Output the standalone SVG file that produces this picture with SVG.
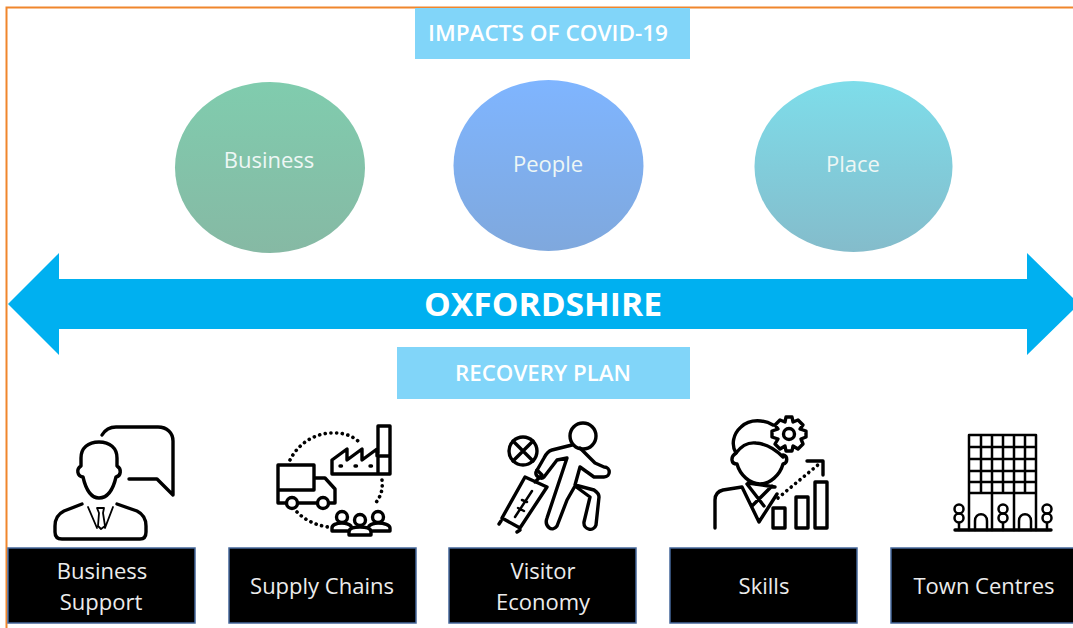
<svg xmlns="http://www.w3.org/2000/svg" width="1073" height="628" viewBox="0 0 1073 628">
<defs>
<linearGradient id="gG" x1="0" y1="0" x2="0" y2="1"><stop offset="0" stop-color="#80ccae"/><stop offset="1" stop-color="#86b9a4"/></linearGradient>
<linearGradient id="gB" x1="0" y1="0" x2="0" y2="1"><stop offset="0" stop-color="#7fb5ff"/><stop offset="1" stop-color="#7fa8dd"/></linearGradient>
<linearGradient id="gC" x1="0" y1="0" x2="0" y2="1"><stop offset="0" stop-color="#7eddea"/><stop offset="1" stop-color="#84bccb"/></linearGradient>
</defs>
<style>
text{font-family:"Open Sans","Noto Sans","Liberation Sans",sans-serif;text-anchor:middle;fill:#fff}
.lab{fill:#ececec;font-size:22px}
.c{font-size:22px;fill:#eef7f5}
.h{font-weight:600;font-size:21px}
.box{fill:#000;stroke:#44679b;stroke-width:1.5}
.band{fill:#81d5f9}
.i{fill:none;stroke:#000;stroke-width:3.4;stroke-linecap:round;stroke-linejoin:round}
.t{stroke-width:2.500}
.n{stroke-width:1.800}
.d{stroke-dasharray:.1 5.6;stroke-width:3.6}
</style>
<rect width="1073" height="628" fill="#fff"/>
<path d="M1073 7.500H6.500V628" fill="none" stroke="#f0862c" stroke-width="2"/>

<g id="title"><rect class="band" x="415" y="8" width="275" height="51"/><text class="h" x="548" y="41" textLength="240" lengthAdjust="spacingAndGlyphs">IMPACTS OF COVID-19</text></g>
<g id="business"><ellipse cx="270" cy="167.500" rx="95" ry="85.500" fill="url(#gG)"/><text class="c" x="269" y="168">Business</text></g>
<g id="people"><ellipse cx="548.500" cy="165.500" rx="95" ry="85.500" fill="url(#gB)"/><text class="c" x="548" y="172">People</text></g>
<g id="place"><ellipse cx="853.500" cy="166.500" rx="99" ry="85.500" fill="url(#gC)"/><text class="c" x="853" y="172">Place</text></g>

<g id="oxfordshire"><path d="M8 304L59 253V279H1027V253L1073 298V310L1027 355V329H59V355Z" fill="#00b0f0"/><text x="543" y="316" font-size="33" font-weight="700" textLength="238" lengthAdjust="spacingAndGlyphs">OXFORDSHIRE</text></g>
<g id="recovery"><rect class="band" x="397" y="347" width="293" height="52"/><text class="h" x="543" y="381" textLength="176" lengthAdjust="spacingAndGlyphs">RECOVERY PLAN</text></g>

<g id="connectors"></g>

<g id="business-support">
<path class="i" d="M102 435C105 430 110 427 116 427H158C167 427 173 433 173 441V495L157 479H129"/>
<path class="i" d="M99 442C88 442 81 448 81 458V466C76 469 77 476 83 477C86 490 91 498 99 498C107 498 113 490 116 477C121 476 122 469 117 466V458C117 448 110 442 99 442Z"/>
<path class="i" d="M82 504L64 511C58 514 55 519 55 526V532C55 537 58 539 62 539H140C144 539 146 537 146 532V526C146 519 143 514 137 511L117 504"/>
<path class="i n" d="M88 507L97 528M113 507L105 528M97 508H104L103 513L105 526L101 529L98 526L99 513Z"/>
<rect class="box" x="8" y="548" width="187" height="75"/><text class="lab" x="102" y="579">Business</text><text class="lab" x="101" y="610">Support</text>
</g>

<g id="supply-chains">
<path class="i" d="M278 465H314V490M278 465V503H286M298 503H317M329 503H335V489L325 478H314M278 490H314"/>
<circle class="i" cx="292" cy="503" r="5.500"/><circle class="i" cx="323" cy="503" r="5.500"/>
<path class="i" d="M332 474V460L347 449V460L362 449V460L377 449V456L378 453V426H390V474ZM378 456H390M378 456V474"/>
<path class="i" stroke-width="3.500" d="M340 466h1.500M355 466h1.500M370 466h1.500"/>
<path class="i d" d="M290 460C300 440 320 432 335 433C345 433 352 436 358 441M382 480C383 490 381 496 375 504M297 512C305 520 315 525 328 527"/>
<circle class="i" cx="342" cy="517" r="5.500"/><circle class="i" cx="360" cy="520" r="5.500"/><circle class="i" cx="378" cy="517" r="5.500"/>
<path class="i" d="M332 531V528C332 525 336 523 342 523C346 523 349 524 351 526M369 526C371 524 374 523 378 523C384 523 390 525 390 528V531H371M332 531H349M349 535V532C349 528 354 527 360 527C366 527 371 528 371 532V535Z"/>
<rect class="box" x="229" y="548" width="187" height="75"/><text class="lab" x="322" y="594">Supply Chains</text>
</g>

<g id="visitor-economy">
<circle class="i" cx="523" cy="451" r="14"/><path class="i" d="M513 441L533 461M533 441L513 461"/>
<circle class="i" cx="583" cy="436" r="13"/>
<path class="i" d="M572 445L552 450C548 451 546 454 544 458L536 472C535 476 541 480 544 477L557 460L567 458L547 518C544 526 552 533 557 526L567 500L575 486L590 497L584 522C583 530 594 532 596 525L599 497C599 494 597 492 594 490L575 485L580 467L594 477H604C611 477 611 467 604 467L595 463L580 448"/>
<path class="i" d="M525 477L547 487L520 528L502 518ZM537 470L542 475L535 482M501 521L499 524M520 530L517 532"/>
<path class="i t" d="M532 491L515 517M527 502L522 500M524 511L518 508"/>
<rect class="box" x="449" y="548" width="187" height="75"/><text class="lab" x="543" y="579">Visitor</text><text class="lab" x="543" y="610">Economy</text>
</g>

<g id="skills">
<path class="i" d="M773 425C765 420 750 418 741 427C733 434 731 445 736 453C742 445 748 442 756 443C768 444 776 450 783 457"/>
<path class="i" d="M736 453C730 457 731 464 737 464C740 475 750 484 760 484C770 484 780 475 783 464C788 463 788 456 783 455"/>
<circle class="i" cx="789" cy="434" r="5.500"/>
<path class="i" d="M786 417H792L793 422L798 420L803 425L800 429L806 431V437L801 439L803 444L798 449L793 446L792 451H786L785 446L780 449L775 444L778 439L772 437V431L778 429L775 425L780 420L785 422Z" stroke-width="3"/>
<path class="i" d="M715 528V500C715 494 719 491 723 490L742 487L759 522L777 494M748 483L775 487M747 484L764 506M772 486L752 506" />
<path class="i d" d="M778 498L819 464"/><path class="i" d="M807 461H823V475"/>
<rect class="i" x="773" y="508" width="12" height="20"/><rect class="i" x="796" y="497" width="12" height="31"/><rect class="i" x="815" y="482" width="12" height="46"/>
<rect class="box" x="670" y="548" width="187" height="75"/><text class="lab" x="764" y="594">Skills</text>
</g>

<g id="town-centres">
<path class="i t" d="M969 435H1036M969 447H1036M969 459H1036M969 471H1036M969 482H1036M969 493H1036M969 435V530M1036 435V530M981 435V493M992 435V530M1003 435V493M1014 435V530M1025 435V493"/>
<path class="i t" d="M975 530V521C975 512 987 512 987 521V530M1019 530V521C1019 512 1031 512 1031 521V530"/>
<circle class="i t" cx="959" cy="509" r="4.500"/><circle class="i t" cx="959" cy="518" r="4.500"/><circle class="i t" cx="1003" cy="509" r="4.500"/><circle class="i t" cx="1003" cy="518" r="4.500"/><circle class="i t" cx="1047" cy="509" r="4.500"/><circle class="i t" cx="1047" cy="518" r="4.500"/>
<path class="i t" d="M959 523V530M1003 523V530M1047 523V530"/>
<path class="i" d="M955 530H1051"/>
<rect class="box" x="891" y="548" width="187" height="75"/><text class="lab" x="984" y="594">Town Centres</text>
</g>
</svg>
